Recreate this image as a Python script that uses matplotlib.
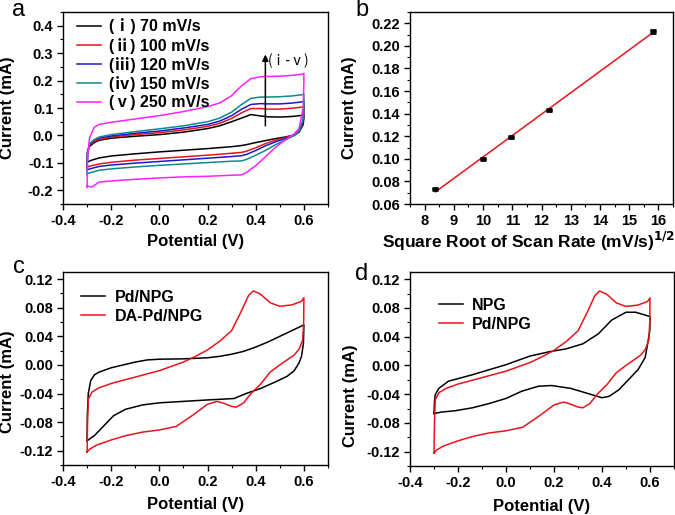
import matplotlib
matplotlib.use("Agg")
import numpy as np
import matplotlib.pyplot as plt
from matplotlib.ticker import MultipleLocator, FormatStrFormatter

plt.rcParams["font.family"] = ["Liberation Sans", "Noto Sans CJK SC", "DejaVu Sans"]
plt.rcParams["font.weight"] = "bold"
plt.rcParams["axes.labelweight"] = "bold"
plt.rcParams["axes.linewidth"] = 1.0

# ---------------- panel a: CVs at different scan rates ----------------
rates = ["(ⅰ) 70 mV/s", "(ⅱ) 100 mV/s", "(ⅲ) 120 mV/s", "(ⅳ) 150 mV/s", "(ⅴ) 250 mV/s"]
colors_a = ["black", "#e8141b", "#1a1acc", "#0f8a8a", "#ff22ff"]

E_fwd_a = [-0.30, -0.298, -0.29, -0.27, -0.25, -0.20, -0.10, 0.00, 0.10, 0.20,
           0.25, 0.30, 0.34, 0.38, 0.42, 0.45, 0.50, 0.55, 0.59, 0.60]
E_rev_a = [0.60, 0.597, 0.58, 0.56, 0.52, 0.48, 0.44, 0.40, 0.36, 0.34,
           0.30, 0.20, 0.10, 0.00, -0.10, -0.20, -0.25, -0.28, -0.30]

I_fwd_70 = [-0.097, -0.060, -0.040, -0.026, -0.018, -0.010, -0.003, 0.003, 0.012, 0.025,
            0.035, 0.050, 0.063, 0.076, 0.071, 0.068, 0.067, 0.069, 0.073, 0.075]
I_rev_70 = [0.065, 0.040, 0.012, 0.001, -0.006, -0.012, -0.019, -0.026, -0.034, -0.037,
            -0.041, -0.048, -0.054, -0.060, -0.067, -0.075, -0.082, -0.090, -0.097]

I_fwd_100 = [-0.115, -0.060, -0.035, -0.022, -0.015, -0.006, 0.003, 0.010, 0.020, 0.033,
             0.044, 0.062, 0.082, 0.098, 0.098, 0.096, 0.096, 0.099, 0.103, 0.105]
I_rev_100 = [0.085, 0.050, 0.015, 0.002, -0.008, -0.018, -0.030, -0.045, -0.058, -0.062,
             -0.065, -0.072, -0.078, -0.084, -0.090, -0.098, -0.104, -0.110, -0.115]

I_fwd_120 = [-0.125, -0.060, -0.032, -0.018, -0.010, -0.002, 0.008, 0.016, 0.027, 0.040,
             0.052, 0.072, 0.095, 0.113, 0.116, 0.115, 0.115, 0.118, 0.122, 0.125]
I_rev_120 = [0.100, 0.050, 0.015, 0.000, -0.012, -0.024, -0.038, -0.055, -0.070, -0.074,
             -0.077, -0.083, -0.089, -0.095, -0.101, -0.108, -0.113, -0.120, -0.125]

I_fwd_150 = [-0.140, -0.070, -0.030, -0.015, -0.006, 0.003, 0.014, 0.024, 0.035, 0.050,
             0.063, 0.085, 0.112, 0.135, 0.140, 0.140, 0.141, 0.144, 0.148, 0.150]
I_rev_150 = [0.120, 0.060, 0.015, 0.000, -0.018, -0.035, -0.055, -0.072, -0.088, -0.093,
             -0.094, -0.099, -0.104, -0.109, -0.115, -0.122, -0.127, -0.134, -0.140]

I_fwd_250 = [-0.190, -0.080, -0.010, 0.030, 0.040, 0.048, 0.060, 0.072, 0.087, 0.105,
             0.118, 0.145, 0.180, 0.207, 0.214, 0.215, 0.216, 0.219, 0.223, 0.226]
I_rev_250 = [0.200, 0.100, 0.025, 0.006, -0.018, -0.045, -0.078, -0.110, -0.136, -0.144,
             -0.145, -0.149, -0.151, -0.155, -0.160, -0.166, -0.170, -0.188, -0.185]

I_fwd_a = [I_fwd_70, I_fwd_100, I_fwd_120, I_fwd_150, I_fwd_250]
I_rev_a = [I_rev_70, I_rev_100, I_rev_120, I_rev_150, I_rev_250]

# ---------------- panel b: peak current vs sqrt(scan rate) ----------------
sqrt_rate = [8.367, 10.0, 10.954, 12.247, 15.811]
peak_current = [0.073, 0.100, 0.119, 0.143, 0.213]
peak_err = [0.001, 0.001, 0.001, 0.001, 0.0015]

# ---------------- panel c / d ----------------
E_pd = [-0.30, -0.298, -0.295, -0.28, -0.25, -0.20, -0.10, 0.00, 0.10, 0.15, 0.20,
        0.25, 0.30, 0.34, 0.37, 0.39, 0.42, 0.46, 0.50, 0.55, 0.59, 0.60,
        0.60, 0.599, 0.595, 0.58, 0.56, 0.53, 0.50, 0.46, 0.42, 0.38, 0.35, 0.32,
        0.30, 0.27, 0.24, 0.20, 0.14, 0.07, 0.00, -0.07, -0.14, -0.20, -0.26, -0.29, -0.30]
I_pd = [-0.122, -0.080, -0.048, -0.038, -0.032, -0.026, -0.017, -0.008, 0.004, 0.012, 0.021,
        0.033, 0.048, 0.075, 0.097, 0.1035, 0.099, 0.087, 0.082, 0.084, 0.089, 0.094,
        0.094, 0.060, 0.035, 0.022, 0.014, 0.007, 0.000, -0.010, -0.027, -0.040, -0.053, -0.059,
        -0.058, -0.054, -0.051, -0.055, -0.070, -0.086, -0.091, -0.094, -0.099, -0.105, -0.112,
        -0.118, -0.122]

E_c_black = [-0.30, -0.299, -0.295, -0.285, -0.27, -0.25, -0.20, -0.15, -0.10, -0.05, 0.00,
             0.10, 0.20, 0.25, 0.30, 0.35, 0.40, 0.45, 0.50, 0.55, 0.60,
             0.60, 0.598, 0.59, 0.58, 0.56, 0.53, 0.48, 0.42, 0.36, 0.31, 0.20, 0.10,
             0.00, -0.07, -0.14, -0.19, -0.23, -0.27, -0.30]
I_c_black = [-0.106, -0.070, -0.040, -0.022, -0.014, -0.010, -0.004, 0.000, 0.004, 0.007, 0.008,
             0.0085, 0.010, 0.012, 0.015, 0.019, 0.025, 0.032, 0.040, 0.048, 0.056,
             0.056, 0.030, 0.012, 0.003, -0.008, -0.016, -0.024, -0.033, -0.040, -0.047, -0.049,
             -0.051, -0.053, -0.056, -0.062, -0.071, -0.085, -0.099, -0.106]

E_d_black = [-0.30, -0.298, -0.295, -0.28, -0.24, -0.14, 0.00, 0.10, 0.18, 0.25, 0.32,
             0.385, 0.44, 0.50, 0.54, 0.60,
             0.60, 0.599, 0.59, 0.58, 0.55, 0.51, 0.47, 0.43, 0.40, 0.36, 0.27, 0.19,
             0.135, 0.065, 0.00, -0.07, -0.14, -0.21, -0.27, -0.30]
I_d_black = [-0.067, -0.050, -0.041, -0.032, -0.022, -0.013, 0.001, 0.013, 0.019, 0.023, 0.030,
             0.044, 0.063, 0.074, 0.074, 0.068,
             0.068, 0.048, 0.030, 0.011, -0.006, -0.020, -0.034, -0.043, -0.045, -0.041,
             -0.032, -0.028, -0.029, -0.036, -0.046, -0.053, -0.059, -0.063, -0.065, -0.067]

RED = "#e8141b"

W, H = 675, 515
fig = plt.figure(figsize=(W / 100, H / 100), dpi=100)


def px_axes(left, top, right, bottom):
    return fig.add_axes([left / W, 1 - bottom / H, (right - left) / W, (bottom - top) / H])


def style(ax, xmaj, xmin, ymaj, ymin, yfmt, xfmt):
    ax.xaxis.set_major_locator(MultipleLocator(xmaj))
    ax.xaxis.set_minor_locator(MultipleLocator(xmin))
    ax.yaxis.set_major_locator(MultipleLocator(ymaj))
    ax.yaxis.set_minor_locator(MultipleLocator(ymin))
    ax.yaxis.set_major_formatter(FormatStrFormatter(yfmt))
    ax.xaxis.set_major_formatter(FormatStrFormatter(xfmt))
    ax.tick_params(which="both", direction="out", top=False, right=False, labelsize=10.5)
    ax.tick_params(which="major", length=4, width=1, pad=3)
    ax.tick_params(which="minor", length=2.2, width=0.8)
    for lab in ax.get_xticklabels() + ax.get_yticklabels():
        lab.set_fontweight("bold")


def legend(ax, anchor, size):
    ax.legend(loc="upper left", bbox_to_anchor=anchor, frameon=False,
              handlelength=1.5, handletextpad=0.6, labelspacing=0.25, borderaxespad=0,
              prop={"weight": "bold", "size": size})


# ---- a ----
ax = px_axes(63, 12, 328, 204)
for i in range(5):
    ax.plot(E_fwd_a + E_rev_a, I_fwd_a[i] + I_rev_a[i], color=colors_a[i], lw=1.1, label=rates[i])
ax.set_xlim(-0.4, 0.7)
ax.set_ylim(-0.25, 0.45)
style(ax, 0.2, 0.1, 0.1, 0.05, "%.1f", "%.1f")
ax.set_xlabel("Potential (V)", fontsize=12)
ax.set_ylabel("Current (mA)", fontsize=12)
ax.xaxis.set_label_coords(0.5, -0.155)
ax.yaxis.set_label_coords(-0.18, 0.5)
ax.legend(loc="upper left", bbox_to_anchor=(0.03, 1.0), frameon=False,
          handlelength=1.5, handletextpad=0.5, labelspacing=0.2, borderaxespad=0,
          prop={"weight": "bold", "size": 11.5})
ax.annotate("", xy=(0.44, 0.305), xytext=(0.44, 0.025),
            arrowprops=dict(arrowstyle="-|>", lw=1.1, color="black", mutation_scale=9))
ax.text(0.448, 0.27, "(ⅰ-ⅴ)", fontsize=10, fontweight="normal", va="center",
        family=["Noto Sans CJK SC", "DejaVu Sans"])

# ---- b ----
ax = px_axes(410, 12, 673, 204)
coef = np.polyfit(sqrt_rate, peak_current, 1)
xs = np.array([sqrt_rate[0], sqrt_rate[-1]])
ax.plot(xs, np.polyval(coef, xs), color=RED, lw=1.1)
ax.errorbar(sqrt_rate, peak_current, yerr=peak_err, fmt="_", color="black", ms=5, mew=2,
            capsize=2, elinewidth=1, capthick=1)
ax.set_xlim(7.5, 16.5)
ax.set_ylim(0.06, 0.23)
style(ax, 1, 0.5, 0.02, 0.01, "%.2f", "%d")
ax.set_xlabel(r"Square Root of Scan Rate (mV/s)$^{\mathbf{1/2}}$", fontsize=12.5)
ax.set_ylabel("Current (mA)", fontsize=12)
ax.xaxis.set_label_coords(0.45, -0.135)
ax.yaxis.set_label_coords(-0.2, 0.5)

# ---- c ----
ax = px_axes(63, 272, 328, 465)
ax.plot(E_c_black, I_c_black, color="black", lw=1.1, label="Pd/NPG")
ax.plot(E_pd, I_pd, color=RED, lw=1.1, label="DA-Pd/NPG")
ax.set_xlim(-0.4, 0.7)
ax.set_ylim(-0.14, 0.13)
style(ax, 0.2, 0.1, 0.04, 0.02, "%.2f", "%.1f")
ax.set_xlabel("Potential (V)", fontsize=12)
ax.set_ylabel("Current (mA)", fontsize=12)
ax.xaxis.set_label_coords(0.5, -0.165)
ax.yaxis.set_label_coords(-0.18, 0.43)
legend(ax, (0.045, 0.94), 11.5)

# ---- d ----
ax = px_axes(410, 272, 674, 466)
ax.plot(E_d_black, I_d_black, color="black", lw=1.1, label="NPG")
ax.plot(E_pd, I_pd, color=RED, lw=1.1, label="Pd/NPG")
ax.set_xlim(-0.4, 0.7)
ax.set_ylim(-0.14, 0.13)
style(ax, 0.2, 0.1, 0.04, 0.02, "%.2f", "%.1f")
ax.set_xlabel("Potential (V)", fontsize=12)
ax.set_ylabel("Current (mA)", fontsize=12)
ax.xaxis.set_label_coords(0.5, -0.17)
ax.yaxis.set_label_coords(-0.198, 0.36)
legend(ax, (0.085, 0.9), 11.5)

# panel letters
for lab, x, y in [("a", 12, 16), ("b", 355, 16), ("c", 13, 273), ("d", 355, 280)]:
    fig.text(x / W, 1 - y / H, lab, fontsize=17, fontweight="normal", va="baseline",
             family=["Liberation Sans", "DejaVu Sans"])

fig.savefig("out.png", dpi=100)
